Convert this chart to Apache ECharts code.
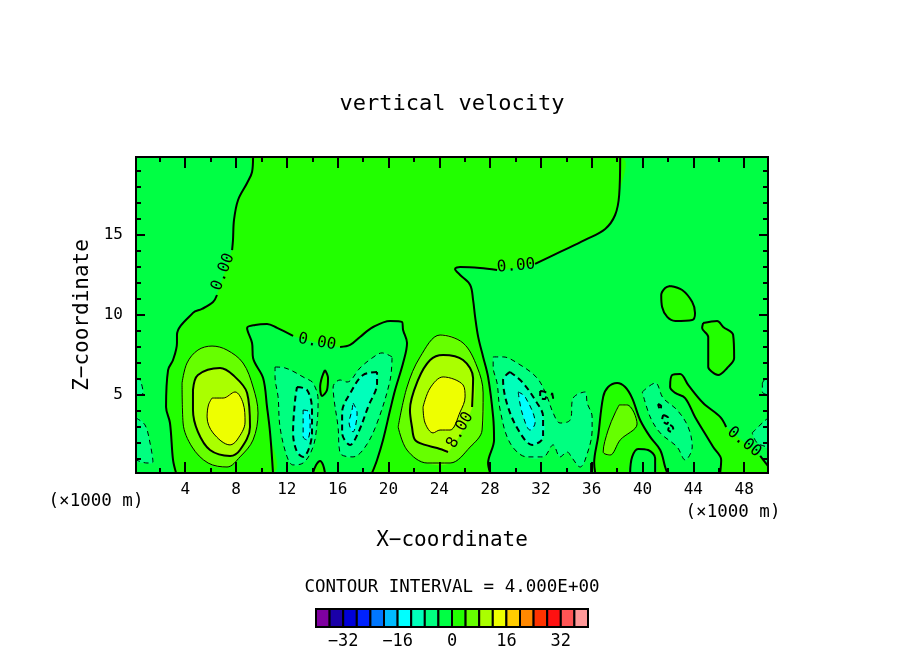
<!DOCTYPE html>
<html><head><meta charset="utf-8">
<style>html,body{margin:0;padding:0;background:#fff}#c{width:904px;height:654px}</style>
<script src="https://cdn.jsdelivr.net/npm/echarts@6/dist/echarts.min.js"></script>
</head><body><div id="c"></div>
<script>
// ---- ticks ----
const xMajor=[4,8,12,16,20,24,28,32,36,40,44,48];
const xMinor=[2,6,10,14,18,22,26,30,34,38,42,46];
const zMajor=[5,10,15];
const zMinor=[1,2,3,4,6,7,8,9,11,12,13,14,16,17,18,19];
const barTicks=[-32,-16,0,16,32];
const barLevels=[-40,-36,-32,-28,-24,-20,-16,-12,-8,-4,0,4,8,12,16,20,24,28,32,36,40];
const barColors=['#7f00a0','#1a00a8','#0000d8','#0022ff','#0077ff','#00bbff','#00ffff','#00ffbb','#00ff80','#00ff44','#22ff00','#66ff00','#aaff00','#eeff00','#ffcc00','#ff8800','#ff3300','#ff1111','#ff5555','#ff9999'];
// ---- zero contours ----
const zeroLeftTop=[[9.34,19.88],[9.26,18.94],[8.87,18.25],[8.16,17.19],[7.84,15.94],[7.76,14.69],[7.69,14.06]];
const zeroLeftLow=[[6.5,11.25],[6.19,10.81],[5.32,10.38],[4.61,10.13],[3.35,8.75],[3.35,8.25],[3.04,7.19],[2.65,6.56],[2.49,4.25],[2.8,3.25],[3.04,.94],[3.28,.13]];
const zeroMidA=[[10.91,.13],[10.68,2.63],[10.44,4.25],[10.13,6.06],[9.34,7.31],[9.26,8.25],[8.87,9.19],[9.5,9.38],[10.44,9.44],[11.23,9.19],[12.49,8.69]];
const zeroMidB=[[16.19,8.0],[16.98,8.13],[17.76,8.63],[18.79,9.25],[20.13,9.63],[21.07,9.56],[21.15,9.06],[21.46,8.25],[21.15,7.0],[20.52,5.31],[20.13,4.06],[19.57,2.19],[19.1,.94],[18.71,.13]];
const zeroRightA=[[28.0,.13],[27.84,.75],[28.31,2.19],[28.24,3.63],[27.84,6.13],[27.45,7.38],[27.06,8.63],[26.82,9.88],[26.66,10.94],[26.43,11.88],[25.64,12.5],[25.24,12.88],[25.64,13.0],[27.21,12.94],[28.55,12.81]];
const zeroRightB=[[31.54,13.19],[33.51,13.94],[35.48,14.69],[37.06,15.38],[37.84,16.25],[38.16,17.5],[38.24,19.88]];
const zeroHump=[[36.27,.13],[36.19,.75],[36.5,2.38],[36.9,4.88],[37.29,5.5],[38.0,5.75],[38.63,5.5],[39.18,4.81],[39.81,3.44],[40.6,2.38],[41.39,1.56],[41.78,.5],[41.94,.13]];
const zeroSliver=[[35.95,.13],[35.95,.75]];
const zeroArc=[[39.02,.13],[39.18,1.13],[39.65,1.63],[40.44,1.56],[40.99,1.06],[40.99,.13]];
const zeroRidgeLow=[[46.11,.13],[46.19,.94],[45.56,1.75],[45.08,2.38],[44.13,3.63],[43.35,4.81],[42.57,5.13],[42.17,5.5],[42.33,6.25],[42.96,6.31],[43.59,5.63],[44.77,4.5],[46.11,3.63],[46.58,3.0]];
const zeroRidgeEnd=[[49.26,1.19],[49.88,.56]];
const zeroBlobD=[[42.17,11.81],[43.12,11.56],[43.91,10.81],[44.13,10.13],[43.91,9.69],[42.57,9.63],[41.94,9.88],[41.54,10.5],[41.47,11.25],[41.78,11.69],[42.17,11.81]];
const zeroBlobE=[[44.77,9.5],[45.87,9.63],[46.35,9.25],[47.13,8.75],[47.21,7.31],[46.66,6.69],[45.95,6.25],[45.48,6.44],[45.17,6.75],[45.17,8.63],[44.69,9.19],[44.77,9.5]];
const zeroBump=[[14.06,.13],[14.3,.63],[14.62,.88],[14.85,.63],[15.0,.13]];
const zeroOval=[[15.0,6.56],[15.24,6.06],[15.16,5.31],[14.77,4.94],[14.62,5.5],[14.77,6.13],[15.0,6.56]];
const corner=[[49.88,.13]];
// ---- positive contours ----
const pos4a=[[3.75,5.75],[4.14,7.0],[5.0,7.81],[6.11,8.06],[7.29,7.81],[8.55,7.0],[9.34,5.5],[9.73,3.88],[9.34,2.19],[8.31,1.13],[7.29,.5],[5.8,.75],[4.54,1.75],[3.83,3.25],[3.75,5.75]];
const pos8a=[[4.61,5.31],[5.0,6.25],[6.74,6.69],[7.76,6.25],[8.87,5.13],[9.1,3.0],[8.31,1.56],[7.53,1.19],[5.95,1.56],[5.0,2.69],[4.61,4.06],[4.61,5.31]];
const pos12a=[[6.11,4.81],[6.98,4.81],[7.92,5.19],[8.55,4.5],[8.71,3.31],[8.08,2.19],[7.53,1.88],[6.19,2.63],[5.72,3.63],[5.83,4.38],[6.11,4.81]];
const pos4b=[[20.76,3.0],[21.46,5.5],[22.49,7.38],[24.06,8.75],[25.87,8.25],[26.98,6.75],[27.45,5.13],[27.37,2.81],[26.43,1.75],[24.85,.75],[23.04,.75],[21.46,1.56],[20.76,3.0]];
const pos8b=[[24.69,1.44],[23.83,1.69],[22.88,1.88],[22.09,2.19],[21.85,3.0],[21.69,4.06],[22.33,5.94],[23.28,7.19],[24.3,7.5],[25.87,7.19],[26.66,6.06],[26.58,4.25]];
const pos12b=[[22.72,4.25],[23.28,5.44],[24.3,6.13],[25.87,5.63],[26.03,4.88],[25.64,3.94],[24.85,2.81],[24.06,2.81],[23.51,2.63],[22.88,3.25],[22.72,4.25]];
const pos4c=[[38.16,4.38],[38.79,4.38],[39.57,3.19],[38.24,2.19],[37.45,1.25],[36.9,1.44],[37.29,2.81],[37.84,3.88],[38.16,4.38]];
// ---- negative contours ----
const neg4f=[[11.07,6.75],[11.86,6.69],[13.43,6.06],[14.06,5.75],[14.46,4.69],[14.38,3.25],[14.06,1.75],[13.28,.75],[12.49,.63],[12.02,1.13],[11.46,3.0],[11.31,4.88],[11.07,6.13],[11.07,6.75]];
const neg8f=[[12.8,5.5],[13.59,5.31],[13.98,4.06],[13.98,2.63],[13.28,1.13],[12.8,1.44],[12.49,2.63],[12.65,4.69],[12.8,5.5]];
const neg12f=[[13.28,4.06],[13.75,3.94],[13.83,3.0],[13.59,2.19],[13.28,2.38],[13.28,3.25],[13.28,4.06]];
const neg4g=[[20.28,7.38],[19.5,7.63],[18.71,7.31],[17.76,6.69],[16.74,5.81],[16.19,5.94],[15.64,5.5],[15.72,4.69],[16.03,3.0],[16.19,1.38],[17.21,1.13],[18.16,1.75],[19.1,3.25],[20.13,5.94],[20.28,7.38]];
const neg8g=[[19.1,6.44],[18.0,6.25],[17.13,5.31],[16.35,3.88],[16.35,2.63],[16.98,1.88],[17.61,2.63],[18.39,4.25],[19.1,5.75],[19.1,6.44]];
const neg12g=[[17.21,4.5],[17.53,3.88],[17.21,2.69],[16.9,3.25],[17.13,4.06],[17.21,4.5]];
const neg4h=[[28.24,7.38],[29.02,7.38],[30.13,7.0],[31.7,6.06],[32.49,4.88],[32.96,3.88],[33.51,3.25],[34.3,3.44],[34.54,4.81],[35.48,5.19],[35.64,4.5],[36.03,3.63],[36.03,2.81],[35.48,.94],[35.09,.5],[34.46,1.06],[34.06,1.44],[33.51,1.13],[32.96,1.88],[32.17,1.13],[30.91,1.13],[29.57,2.0],[28.79,4.06],[28.55,5.75],[28.24,6.75],[28.24,7.38]];
const neg8h=[[29.57,6.44],[30.52,5.81],[31.54,4.69],[32.17,3.63],[32.17,2.38],[31.31,1.88],[30.36,2.63],[29.41,4.25],[29.02,5.94],[29.57,6.44]];
const neg12h=[[30.21,5.19],[30.76,4.88],[31.54,3.25],[31.15,2.81],[30.52,3.88],[30.21,5.19]];
const neg8h2=[[31.94,5.25],[32.41,5.13],[32.33,4.75],[31.94,4.81],[31.94,5.25]];
const neg8h3=[[32.88,5.13],[32.96,4.81],[32.8,4.81],[32.88,5.13]];
const neg4i=[[39.98,5.19],[41.0,5.75],[41.62,4.81],[42.72,4.06],[43.59,3.0],[43.91,1.75],[43.35,.94],[42.72,1.75],[41.39,2.63],[40.6,3.63],[39.98,5.19]];
const neg8i1=[[41.22,4.44],[41.46,4.31],[41.39,4.06],[41.22,4.44]];
const neg8i2=[[41.62,3.75],[42.02,3.56],[41.94,3.19],[41.54,3.44],[41.62,3.75]];
const neg8i3=[[42.17,3.13],[42.41,2.94],[42.33,2.69],[42.02,2.81],[42.17,3.13]];
const edgeL1=[[.13,3.56],[.83,3.13],[1.23,2.0],[1.46,.81],[.99,.75],[.13,.94]];
const edgeL2=[[.13,6.06],[.44,5.94],[.68,5.13],[.13,4.94]];
const edgeR1=[[48.63,2.63],[49.5,3.31],[49.88,3.56],[49.88,1.75],[49.03,2.0],[48.63,2.63]];
const edgeR2=[[49.43,5.75],[49.65,6.0],[49.88,6.06],[49.88,5.0],[49.43,5.19],[49.43,5.75]];
// ---- contour labels: x, z, text, angle ----
const contourLabels=[[6.98,12.69,'0.00',69],[14.38,8.31,'0.00',-10],[30.05,13.06,'0.00',5],[25.64,2.81,'8.00',61],[48.0,2.06,'0.00',-39]];

const C0='#22ff00',C4='#66ff00',C8='#aaff00',C12='#eeff00',CN0='#00ff44',CN4='#00ff80',CN8='#00ffbb',CN12='#00ffff';
const MONO='"DejaVu Sans Mono"';
const SMOOTH=0.35;
function fill(pts,color,z){
  return {type:'custom',coordinateSystem:'cartesian2d',xAxisIndex:0,yAxisIndex:0,z:z,silent:true,clip:true,
    data:pts,
    renderItem:(p,api)=>p.dataIndex!==0?null:({type:'polygon',
      shape:{points:pts.map(q=>api.coord(q)),smooth:SMOOTH},style:{fill:color,stroke:color,lineWidth:.5}})};
}
function line(pts,w,dash){
  return {type:'line',xAxisIndex:0,yAxisIndex:0,z:20,silent:true,symbol:'none',animation:false,smooth:SMOOTH,
    data:pts,lineStyle:{color:'#000',width:w,type:dash?dash:'solid',cap:'butt',join:'round'},clip:true};
}
const D1=[5,4],D2=[6,4];
const fills=[
 fill([...zeroLeftTop,...zeroLeftLow,...zeroMidA,...zeroMidB,...zeroRightA,...zeroRightB],C0,2),
 fill(zeroBlobD,C0,2),fill(zeroBlobE,C0,2),
 fill([...zeroRidgeLow,...zeroRidgeEnd,...corner],C0,2),
 fill(zeroHump,C0,2),fill(zeroBump,C0,2),fill(zeroOval,C0,2),
 fill(zeroArc,CN0,3),
 fill(pos4a,C4,4),fill(pos4b,C4,4),fill(pos4c,C4,4),
 fill(pos8a,C8,5),fill(pos8b,C8,5),
 fill(pos12a,C12,6),fill(pos12b,C12,6),
 fill(neg4f,CN4,4),fill(neg4g,CN4,4),fill(neg4h,CN4,4),fill(neg4i,CN4,4),
 fill(edgeL1,CN4,4),fill(edgeL2,CN4,4),fill(edgeR1,CN4,4),fill(edgeR2,CN4,4),
 fill(neg8f,CN8,5),fill(neg8g,CN8,5),fill(neg8h,CN8,5),
 fill(neg12f,CN12,6),fill(neg12g,CN12,6),fill(neg12h,CN12,6)
];
const lines=[
 ...[zeroLeftTop,zeroLeftLow,zeroMidA,zeroMidB,zeroRightA,zeroRightB,zeroHump,zeroSliver,zeroArc,zeroRidgeLow,zeroRidgeEnd,zeroBlobD,zeroBlobE,zeroBump,zeroOval,pos8a,pos8b].map(a=>line(a,2)),
 ...[pos4a,pos4b,pos4c,pos12a,pos12b].map(a=>line(a,1)),
 ...[neg4f,neg4g,neg4h,neg4i,edgeL1,edgeL2,edgeR1,edgeR2,neg12f,neg12g,neg12h].map(a=>line(a,1,D1)),
 ...[neg8f,neg8g,neg8h,neg8h2,neg8h3,neg8i1,neg8i2,neg8i3].map(a=>line(a,2,D2))
];
const labelSeries={type:'custom',coordinateSystem:'cartesian2d',xAxisIndex:0,yAxisIndex:0,z:21,silent:true,
  data:contourLabels,
  renderItem:(p,api)=>{const c=api.coord([api.value(0),api.value(1)]);const r=contourLabels[p.dataIndex];
    return {type:'text',x:c[0],y:c[1],rotation:r[3]*Math.PI/180,
      style:{text:r[2],font:'16px '+MONO,fill:'#000',align:'center',verticalAlign:'middle'}};}};
const barSeries={type:'custom',coordinateSystem:'cartesian2d',xAxisIndex:4,yAxisIndex:4,z:5,silent:true,
  data:barColors.map((c,i)=>[barLevels[i],barLevels[i+1],0,1]),
  renderItem:(p,api)=>{const a=api.coord([api.value(0),api.value(2)]),b=api.coord([api.value(1),api.value(3)]);
    return {type:'rect',shape:{x:a[0],y:b[1],width:b[0]-a[0],height:a[1]-b[1]},
      style:{fill:barColors[p.dataIndex],stroke:'#000',lineWidth:2}};}};

const tickAxis=(pos,values,len,extra)=>Object.assign({type:'value',gridIndex:0,position:pos,z:30,
  axisLine:{show:true,onZero:false,lineStyle:{color:'#000',width:2}},
  axisTick:{show:true,inside:true,length:len,customValues:values,lineStyle:{color:'#000',width:2}},
  axisLabel:{show:false},splitLine:{show:false}},extra);
const xExt={min:.125,max:49.875},zExt={min:.125,max:19.875};
const tickFont={show:true,fontFamily:MONO,fontSize:16,color:'#000'};
const textStyle=s=>({fontFamily:MONO,fontWeight:'normal',fontSize:s,color:'#000'});

const option={
  animation:false,backgroundColor:'#fff',
  title:[
   {text:'vertical velocity',left:447,top:99,textAlign:'center',textVerticalAlign:'middle',textStyle:textStyle(22)},
   {text:'CONTOUR INTERVAL = 4.000E+00',left:447,top:582,textAlign:'center',textVerticalAlign:'middle',textStyle:textStyle(17.5)},
   {text:'(×1000 m)',left:91,top:496,textAlign:'center',textVerticalAlign:'middle',textStyle:textStyle(17.5)},
   {text:'(×1000 m)',left:728,top:507,textAlign:'center',textVerticalAlign:'middle',textStyle:textStyle(17.5)}
  ],
  grid:[
   {left:136,top:157,width:632,height:316,show:true,backgroundColor:CN0,borderWidth:0},
   {left:316,top:609,width:272,height:18,show:false}
  ],
  xAxis:[
   tickAxis('bottom',xMajor,11,{...xExt,name:'X−coordinate',nameLocation:'middle',nameGap:57,
     nameTextStyle:{fontFamily:MONO,fontSize:21,color:'#000'},
     axisLabel:{...tickFont,customValues:xMajor,margin:9}}),
   tickAxis('bottom',xMinor,5,xExt),
   tickAxis('top',xMajor,11,xExt),
   tickAxis('top',xMinor,5,xExt),
   {type:'value',gridIndex:1,position:'bottom',min:-40,max:40,
    axisLine:{show:false},axisTick:{show:false},splitLine:{show:false},
    axisLabel:{...tickFont,fontSize:17,customValues:barTicks,margin:6,formatter:v=>String(v).replace('-','−')}}
  ],
  yAxis:[
   tickAxis('left',zMajor,9,{...zExt,name:'Z−coordinate',nameLocation:'middle',nameGap:41,
     nameTextStyle:{fontFamily:MONO,fontSize:21,color:'#000'},
     axisLabel:{...tickFont,customValues:zMajor,margin:13}}),
   tickAxis('left',zMinor,5,zExt),
   tickAxis('right',zMajor,9,zExt),
   tickAxis('right',zMinor,5,zExt),
   {type:'value',gridIndex:1,min:0,max:1,axisLine:{show:false},axisTick:{show:false},axisLabel:{show:false},splitLine:{show:false}}
  ],
  series:[...fills,...lines,labelSeries,barSeries]
};
const chart=echarts.init(document.getElementById('c'),null,{renderer:'canvas'});
chart.setOption(option);
</script></body></html>
